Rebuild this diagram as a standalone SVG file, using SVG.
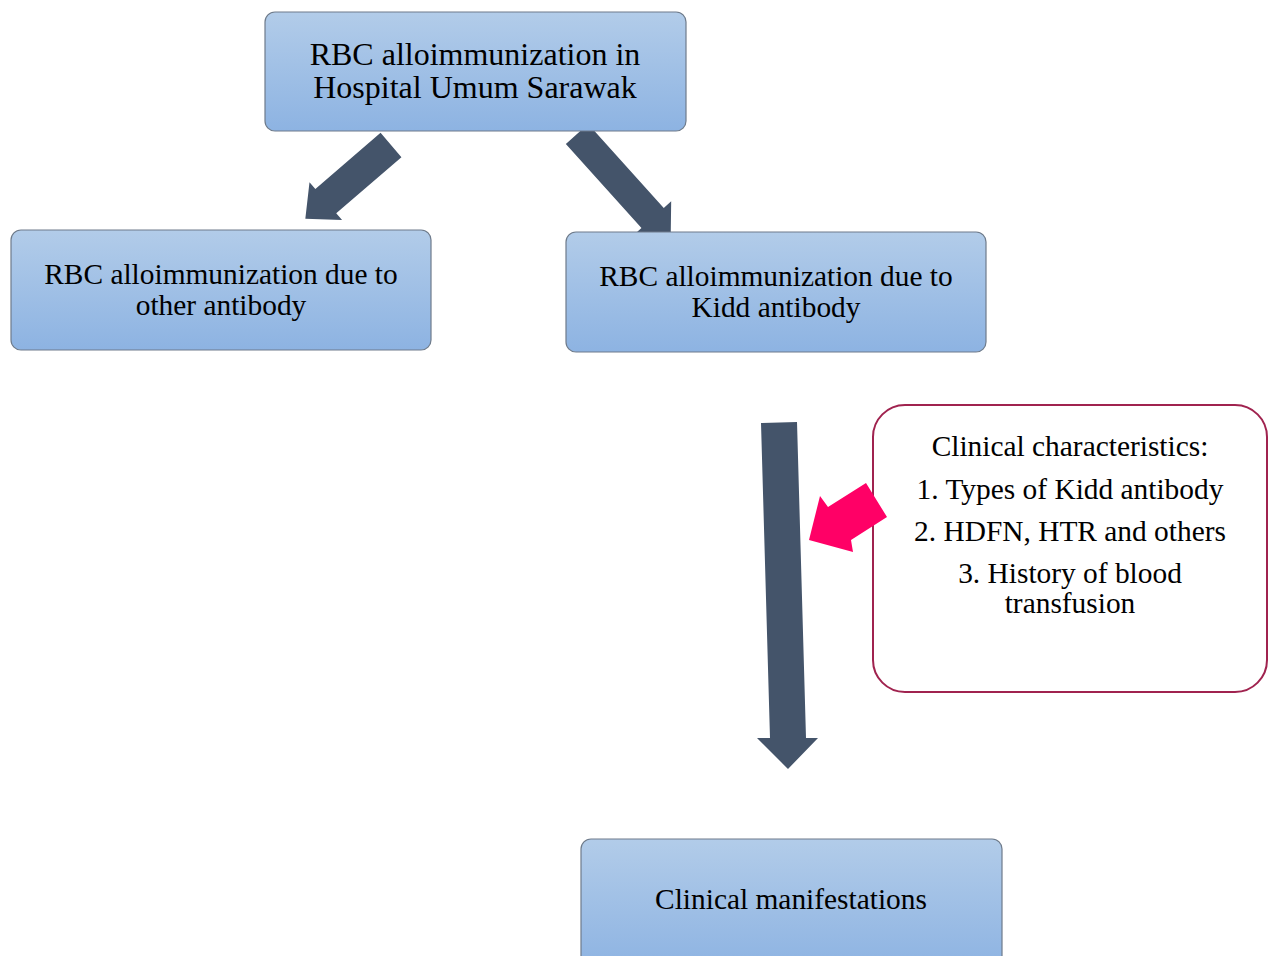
<svg xmlns="http://www.w3.org/2000/svg" width="1277" height="956" viewBox="0 0 1277 956">
<defs>
<linearGradient id="g" x1="0" y1="0" x2="0" y2="1">
<stop offset="0" stop-color="#b2cce9"/>
<stop offset="1" stop-color="#8db3e2"/>
</linearGradient>
<style>
.box{fill:url(#g);stroke:#6e7b8b;stroke-width:1.2}
.t{font-family:"Liberation Serif","Times New Roman",serif;fill:#000;text-anchor:middle;font-size:29.4px}
.big{font-size:32px}
.arr{fill:#44546a}
.pink{fill:#ff0066}
</style>
</defs>
<rect width="1277" height="956" fill="#fff"/>
<g id="connectors">
<polygon class="arr" transform="translate(391,145) rotate(139.3)" points="0,-16 86,-16 86,-25 113,0 86,25 86,16 0,16"/>
<polygon class="arr" transform="translate(577,134) rotate(48)" points="0,-15 113,-15 113,-25 140,0 113,25 113,15 0,15"/>
<polygon class="arr" points="761,423 797,422 806,738 818,738 788,769 757,738 770,738"/>
</g>
<g id="n1">
<rect class="box" x="265" y="12" width="421" height="119" rx="10"/>
<text class="t big" x="475" y="65">RBC alloimmunization in</text>
<text class="t big" x="475" y="98">Hospital Umum Sarawak</text>
</g>
<g id="n2">
<rect class="box" x="11" y="230" width="420" height="120" rx="10"/>
<text class="t" x="221" y="284">RBC alloimmunization due to</text>
<text class="t" x="221" y="315">other antibody</text>
</g>
<g id="n3">
<rect class="box" x="566" y="232" width="420" height="120" rx="10"/>
<text class="t" x="776" y="286">RBC alloimmunization due to</text>
<text class="t" x="776" y="317">Kidd antibody</text>
</g>
<g id="n4">
<rect class="box" x="581" y="839" width="421" height="130" rx="10"/>
<text class="t" x="791" y="909">Clinical manifestations</text>
</g>
<g id="n5">
<rect x="873" y="405" width="394" height="287" rx="32" fill="#fff" stroke="#a0234f" stroke-width="2"/>
<text class="t" x="1070" y="456">Clinical characteristics:</text>
<text class="t" x="1070" y="499">1. Types of Kidd antibody</text>
<text class="t" x="1070" y="541">2. HDFN, HTR and others</text>
<text class="t" x="1070" y="583">3. History of blood</text>
<text class="t" x="1070" y="613">transfusion</text>
</g>
<g id="connectors2">
<polygon class="pink" points="866,483 887,517 851,540 853,552 809,540 820,496 828,507"/>
</g>
</svg>
